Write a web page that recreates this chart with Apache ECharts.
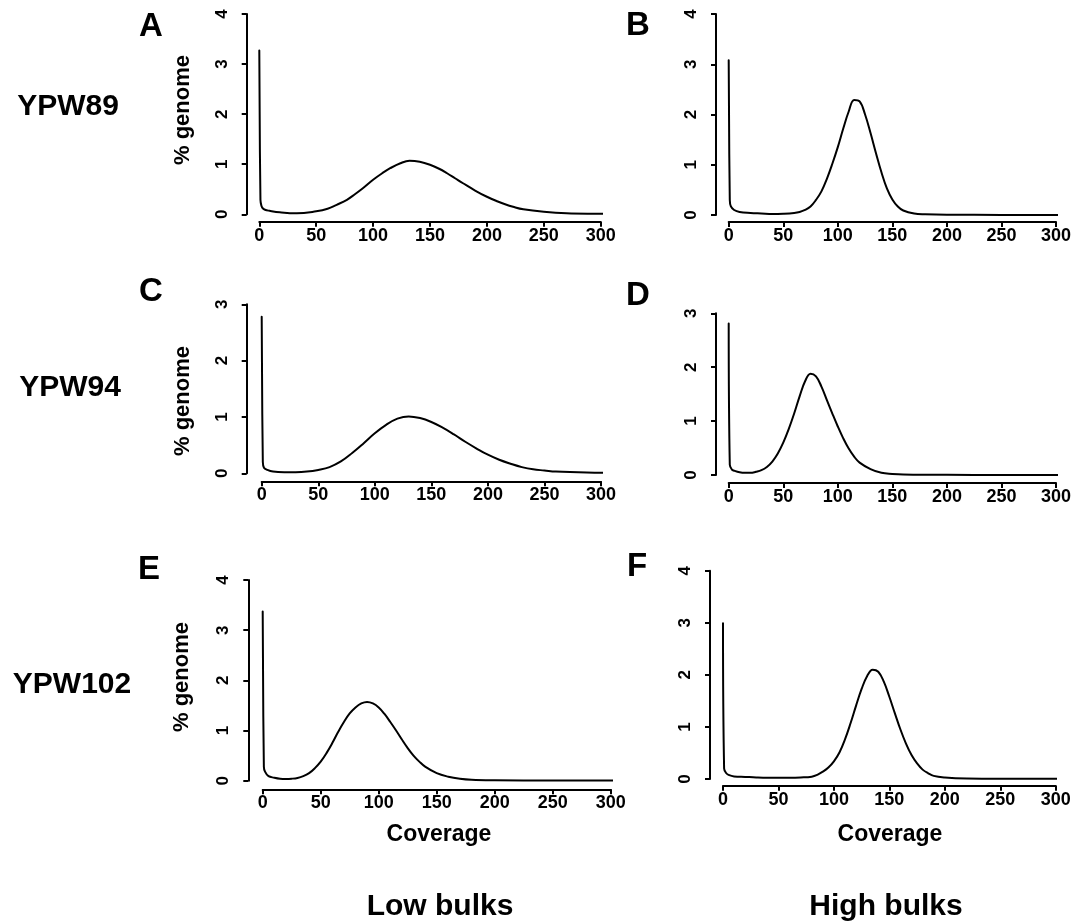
<!DOCTYPE html>
<html>
<head>
<meta charset="utf-8">
<script src="https://cdn.jsdelivr.net/npm/echarts@6/dist/echarts.min.js"></script>
<style>
html,body{margin:0;padding:0;background:#fff;}
#chart{width:1076px;height:924px;}
</style>
</head>
<body>
<div id="chart"></div>
<script>
// ---- Data (coverage -> % genome) ----
const covA = [0,1,2,3,5,9,18,33,50,60,68,77,84,91,100,108,115,124,132,141,150,158,165,172,179,190,200,209,216,223,232,250,270,300,312];
const pctA = [3.27,0.29,0.16,0.12,0.09,0.07,0.04,0.02,0.06,0.11,0.19,0.29,0.40,0.52,0.69,0.82,0.92,1.02,1.07,1.05,0.99,0.91,0.82,0.72,0.62,0.47,0.35,0.26,0.2,0.15,0.1,0.05,0.02,0.01,0.005];

const covB = [0,1,2,5,10,20,30,40,50,60,65,70,75,80,85,90,95,100,105,110,115,120,125,130,135,140,145,150,155,160,170,180,200,250,312];
const pctB = [3.08,0.3,0.17,0.1,0.06,0.04,0.03,0.02,0.025,0.04,0.06,0.1,0.17,0.3,0.47,0.72,1.02,1.35,1.72,2.06,2.29,2.26,2.0,1.63,1.23,0.85,0.53,0.31,0.17,0.09,0.03,0.015,0.005,0.002,0.001];

const covC = [0,1,2,5,10,20,30,40,50,60,70,80,90,100,110,120,130,140,150,160,170,180,190,200,210,220,230,240,250,260,280,300,312];
const pctC = [2.78,0.2,0.1,0.06,0.03,0.02,0.02,0.03,0.06,0.11,0.21,0.36,0.53,0.71,0.86,0.97,1.01,0.98,0.91,0.81,0.69,0.56,0.44,0.33,0.24,0.17,0.11,0.07,0.05,0.03,0.02,0.01,0.01];

const covD = [0,1,3,5,10,15,20,25,30,35,40,45,50,55,60,65,70,75,80,85,90,95,100,105,110,115,120,130,140,150,160,200,250,312];
const pctD = [2.81,0.19,0.1,0.08,0.05,0.04,0.04,0.06,0.09,0.15,0.25,0.4,0.6,0.85,1.14,1.46,1.74,1.88,1.83,1.64,1.39,1.14,0.9,0.68,0.49,0.34,0.23,0.11,0.04,0.02,0.01,0.003,0.002,0.001];

const covE = [0,1,2,5,10,15,20,25,30,35,40,45,50,55,60,65,70,75,80,85,90,95,100,105,110,115,120,125,130,135,140,150,160,170,180,200,250,312];
const pctE = [3.37,0.28,0.18,0.09,0.06,0.04,0.035,0.04,0.055,0.09,0.15,0.25,0.38,0.55,0.75,0.97,1.17,1.34,1.46,1.54,1.57,1.54,1.46,1.33,1.17,1.0,0.82,0.65,0.5,0.38,0.28,0.15,0.08,0.04,0.02,0.01,0.003,0.002];

const covF = [0,1,3,5,10,20,30,40,50,60,70,80,85,90,95,100,105,110,115,120,125,130,135,140,145,150,155,160,165,170,175,180,185,190,200,220,250,312];
const pctF = [2.99,0.2,0.11,0.08,0.05,0.04,0.03,0.025,0.025,0.025,0.03,0.045,0.08,0.14,0.22,0.34,0.51,0.76,1.07,1.41,1.73,1.98,2.1,2.06,1.87,1.58,1.26,0.95,0.68,0.46,0.3,0.18,0.11,0.06,0.03,0.01,0.005,0.005];

const panelLetters = ['A','B','C','D','E','F'];
const strains = ['YPW89','YPW94','YPW102'];
const xTicks = {min:0, max:300, interval:50};
const yMaxes = [4,4,3,3,4,4];
const yLabel = '% genome';
const xLabel = 'Coverage';
const colLabels = ['Low bulks','High bulks'];

// ---- Layout (pixel positions of the panels) ----
const layout = [
  {x0:259.3, x300:600.7, yTop:14,    yBot:214.3, axX:246.7, axY:221.7},
  {x0:728.7, x300:1056,  yTop:14,    yBot:215,   axX:716,   axY:222},
  {x0:261.7, x300:601,   yTop:304.3, yBot:473.3, axX:246.7, axY:481.3},
  {x0:728.7, x300:1056,  yTop:313.3, yBot:475,   axX:716,   axY:483},
  {x0:262.7, x300:610.7, yTop:580,   yBot:780.7, axX:248.3, axY:789.3},
  {x0:723,   x300:1055.7,yTop:570.7, yBot:779,   axX:710,   axY:785.7}
];
const covs = [covA,covB,covC,covD,covE,covF];
const pcts = [pctA,pctB,pctC,pctD,pctE,pctF];

const FONT = "'Liberation Sans', Arial, Helvetica, sans-serif";
const grids = [], xAxes = [], yAxes = [], series = [];
layout.forEach((L,i) => {
  grids.push({left:L.x0, top:L.yTop, width:L.x300-L.x0, height:L.yBot-L.yTop, containLabel:false});
  xAxes.push({
    type:'value', gridIndex:i, min:xTicks.min, max:xTicks.max, interval:xTicks.interval,
    offset: L.axY - L.yBot,
    axisLine:{show:true, onZero:false, lineStyle:{color:'#000', width:2}},
    axisTick:{show:true, length:5, lineStyle:{color:'#000', width:2}},
    axisLabel:{color:'#000', fontFamily:FONT, fontWeight:'bold', fontSize:18, margin:5},
    splitLine:{show:false}
  });
  yAxes.push({
    type:'value', gridIndex:i, min:0, max:yMaxes[i], interval:1,
    offset: L.x0 - L.axX,
    axisLine:{show:true, onZero:false, lineStyle:{color:'#000', width:2}},
    axisTick:{show:true, length:5, lineStyle:{color:'#000', width:2}},
    axisLabel:{color:'#000', fontFamily:FONT, fontWeight:'bold', fontSize:17, rotate:90, margin:16},
    splitLine:{show:false}
  });
  series.push({
    type:'line', xAxisIndex:i, yAxisIndex:i, showSymbol:false, symbol:'none',
    clip:false, smooth:0.4,
    lineStyle:{color:'#000', width:2, join:'round', cap:'round'},
    data: covs[i].map((c,k)=>[c, pcts[i][k]])
  });
});

function txt(text, x, y, size, rot) {
  return {type:'text', x:x, y:y, rotation: rot||0,
    style:{text:text, fill:'#000', font:'bold '+size+'px '+FONT, align:'center', verticalAlign:'middle'}};
}
const letterPos = [[151,27],[638,26],[151,292],[638,296],[149,570],[637,567]];
const strainPos = [[68,107],[70,388],[72,685]];
const yLabelPos = [[183,110],[183,401],[182,677]];
const xLabelPos = [[439,835],[890,835]];
const colPos = [[440,907],[886,907]];

const graphic = [];
panelLetters.forEach((t,i)=>graphic.push(txt(t, letterPos[i][0], letterPos[i][1], 33)));
strains.forEach((t,i)=>graphic.push(txt(t, strainPos[i][0], strainPos[i][1], 30)));
yLabelPos.forEach(p=>graphic.push(txt(yLabel, p[0], p[1], 22, Math.PI/2)));
xLabelPos.forEach(p=>graphic.push(txt(xLabel, p[0], p[1], 23)));
colLabels.forEach((t,i)=>graphic.push(txt(t, colPos[i][0], colPos[i][1], 30)));

const chart = echarts.init(document.getElementById('chart'), null, {renderer:'canvas'});
chart.setOption({
  animation:false,
  backgroundColor:'#fff',
  grid:grids, xAxis:xAxes, yAxis:yAxes, series:series, graphic:graphic
});
</script>
</body>
</html>
